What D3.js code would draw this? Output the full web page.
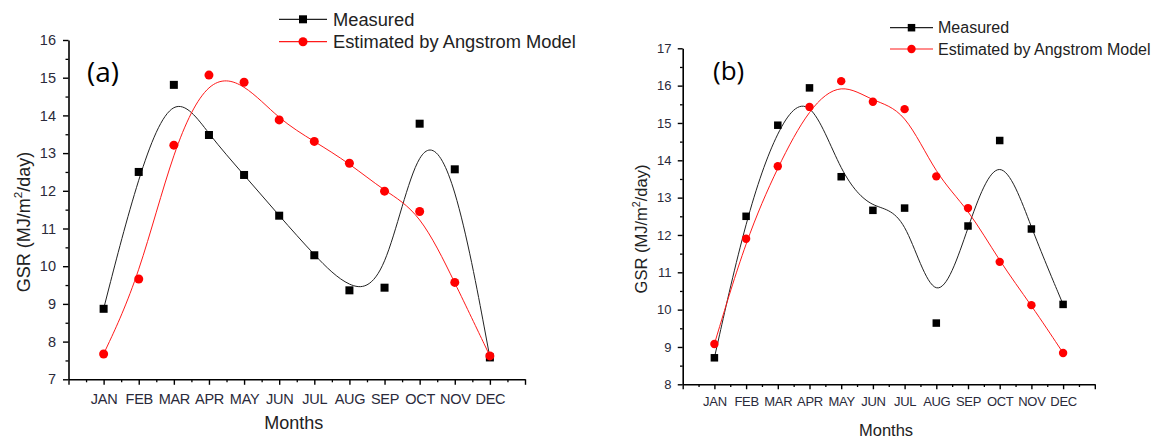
<!DOCTYPE html>
<html>
<head>
<meta charset="utf-8">
<script src="https://cdn.jsdelivr.net/npm/d3@7"></script>
<style>
  html, body { margin: 0; padding: 0; background: #fff; }
  svg { display: block; }
</style>
</head>
<body>
<svg id="chart" width="1170" height="440"></svg>
<script>
// ---- DATA ----
const months = ["JAN","FEB","MAR","APR","MAY","JUN","JUL","AUG","SEP","OCT","NOV","DEC"];
const measuredA  = [8.87, 12.50, 14.81, 13.48, 12.42, 11.34, 10.29, 9.36, 9.43, 13.78, 12.57, 7.58];
const estimatedA = [7.67, 9.66, 13.21, 15.07, 14.88, 13.88, 13.31, 12.73, 11.99, 11.45, 9.57, 7.62];
const measuredB  = [8.71, 12.50, 14.94, 15.94, 13.56, 12.66, 12.72, 9.64, 12.24, 14.53, 12.16, 10.14];
const estimatedB = [9.08, 11.90, 13.84, 15.43, 16.12, 15.57, 15.37, 13.57, 12.72, 11.28, 10.12, 8.84];
const yTicksA = [7, 8, 9, 10, 11, 12, 13, 14, 15, 16];
const yTicksB = [8, 9, 10, 11, 12, 13, 14, 15, 16, 17];
const seriesNames = ["Measured", "Estimated by Angstrom Model"];
const panelLabels = ["(a)", "(b)"];
const xTitle = "Months";

// ---- DRAW ----
const svg = d3.select("#chart");
const FONT = "'Liberation Sans', Arial, sans-serif";

function drawPanel(cfg) {
  const g = svg.append("g");
  const x = d3.scaleLinear().domain([0, 13]).range([cfg.x0, cfg.x1]);
  const y = d3.scaleLinear().domain(cfg.yDomain).range([cfg.yBottom, cfg.yTop]);
  const s = cfg.scale;

  // minor ticks
  const xMinor = d3.range(0.5, 13, 1);
  const yMinor = d3.range(cfg.yDomain[0] + 0.5, cfg.yDomain[1], 1);
  g.append("g").attr("transform", `translate(0,${cfg.yBottom})`)
    .call(d3.axisBottom(x).tickValues(xMinor).tickSize(3 * s).tickFormat(""))
    .call(a => a.select(".domain").remove())
    .selectAll("line").attr("stroke", "#000").attr("stroke-width", 1.3);
  g.append("g").attr("transform", `translate(${cfg.x0},0)`)
    .call(d3.axisLeft(y).tickValues(yMinor).tickSize(3 * s).tickFormat(""))
    .call(a => a.select(".domain").remove())
    .selectAll("line").attr("stroke", "#000").attr("stroke-width", 1.3);

  // major x axis
  const xAx = g.append("g").attr("transform", `translate(0,${cfg.yBottom})`)
    .call(d3.axisBottom(x).tickValues(d3.range(0, 14, 1)).tickSize(5.5 * s).tickSizeOuter(0)
      .tickPadding(8.5 * s)
      .tickFormat(d => (d >= 1 && d <= 12) ? months[d - 1] : ""));
  xAx.select(".domain").attr("stroke", "#000").attr("stroke-width", 1.6);
  xAx.selectAll("line").attr("stroke", "#000").attr("stroke-width", 1.4);
  xAx.selectAll("text").attr("font-family", FONT).attr("font-size", cfg.tickFont)
    .attr("fill", "#2a2a3a").attr("letter-spacing", -0.3);

  // major y axis
  const yAx = g.append("g").attr("transform", `translate(${cfg.x0},0)`)
    .call(d3.axisLeft(y).tickValues(cfg.yTicks).tickSize(5.5 * s).tickSizeOuter(0)
      .tickPadding(7 * s).tickFormat(d3.format("d")));
  yAx.select(".domain").attr("stroke", "#000").attr("stroke-width", 1.6);
  yAx.selectAll("line").attr("stroke", "#000").attr("stroke-width", 1.4);
  yAx.selectAll("text").attr("font-family", FONT).attr("font-size", cfg.tickFont).attr("fill", "#2a2a3a");

  // curves
  const line = d3.line().x((d, i) => x(i + 1)).y(d => y(d)).curve(d3.curveBasis);
  g.append("path").datum(cfg.measured).attr("d", line)
    .attr("fill", "none").attr("stroke", "#222").attr("stroke-width", 1);
  g.append("path").datum(cfg.estimated).attr("d", line)
    .attr("fill", "none").attr("stroke", "#ff1a1a").attr("stroke-width", 1);

  // markers
  const sq = cfg.sq;
  g.selectAll(".sq").data(cfg.measured).join("rect")
    .attr("x", (d, i) => x(i + 1) - sq / 2).attr("y", d => y(d) - sq / 2)
    .attr("width", sq).attr("height", sq).attr("fill", "#000");
  g.selectAll(".ci").data(cfg.estimated).join("circle")
    .attr("cx", (d, i) => x(i + 1)).attr("cy", d => y(d)).attr("r", cfg.r).attr("fill", "#ff0000");

  // axis titles
  g.append("text").attr("x", (cfg.x0 + cfg.x1) / 2 - 3 * s).attr("y", cfg.xTitleY)
    .attr("text-anchor", "middle").attr("font-family", FONT).attr("font-size", cfg.titleFont)
    .attr("fill", "#222").text(xTitle);
  const yt = g.append("text")
    .attr("transform", `translate(${cfg.yTitleX},${cfg.yTitleY}) rotate(-90)`)
    .attr("text-anchor", "middle").attr("font-family", FONT).attr("font-size", cfg.titleFont)
    .attr("fill", "#222");
  yt.append("tspan").text("GSR (MJ/m");
  yt.append("tspan").attr("dy", -0.45 * cfg.titleFont).attr("font-size", cfg.titleFont * 0.65).text("2");
  yt.append("tspan").attr("dy", 0.45 * cfg.titleFont).text("/day)");

  // panel label
  g.append("text").attr("x", cfg.labelX).attr("y", cfg.labelY)
    .attr("font-family", "'Open Sans', 'Noto Sans', sans-serif").attr("font-size", cfg.labelFont)
    .attr("fill", "#000").text(cfg.label);

  // legend
  const lg = g.append("g");
  const rows = [
    { name: seriesNames[0], color: "#000", stroke: "#222", type: "sq", yy: cfg.legY[0] },
    { name: seriesNames[1], color: "#ff0000", stroke: "#ff1a1a", type: "ci", yy: cfg.legY[1] }
  ];
  rows.forEach(r => {
    lg.append("line").attr("x1", cfg.legX0).attr("x2", cfg.legX1).attr("y1", r.yy).attr("y2", r.yy)
      .attr("stroke", r.stroke).attr("stroke-width", 1.2);
    const mx = (cfg.legX0 + cfg.legX1) / 2;
    if (r.type === "sq") {
      lg.append("rect").attr("x", mx - sq / 2).attr("y", r.yy - sq / 2).attr("width", sq).attr("height", sq).attr("fill", r.color);
    } else {
      lg.append("circle").attr("cx", mx).attr("cy", r.yy).attr("r", cfg.r).attr("fill", r.color);
    }
    lg.append("text").attr("x", cfg.legText).attr("y", r.yy).attr("dy", "0.36em")
      .attr("font-family", FONT).attr("font-size", cfg.legFont).attr("fill", "#222").text(r.name);
  });
}

drawPanel({
  x0: 68.5, x1: 525, yTop: 40, yBottom: 379.3, yDomain: [7, 16], yTicks: yTicksA,
  measured: measuredA, estimated: estimatedA, scale: 1,
  tickFont: 14.5, titleFont: 18, xTitleY: 429, yTitleX: 30, yTitleY: 222,
  sq: 8, r: 4.5, label: panelLabels[0], labelX: 87, labelY: 82, labelFont: 28,
  legX0: 279, legX1: 327, legText: 333, legY: [19.3, 41.7], legFont: 18.3
});

drawPanel({
  x0: 682.7, x1: 1094.8, yTop: 48.3, yBottom: 384.3, yDomain: [8, 17], yTicks: yTicksB,
  measured: measuredB, estimated: estimatedB, scale: 0.9,
  tickFont: 13, titleFont: 16.5, xTitleY: 436, yTitleX: 647, yTitleY: 229,
  sq: 7.5, r: 4.2, label: panelLabels[1], labelX: 713, labelY: 80, labelFont: 26,
  legX0: 890, legX1: 933, legText: 938, legY: [27.7, 49], legFont: 16
});
</script>
</body>
</html>
